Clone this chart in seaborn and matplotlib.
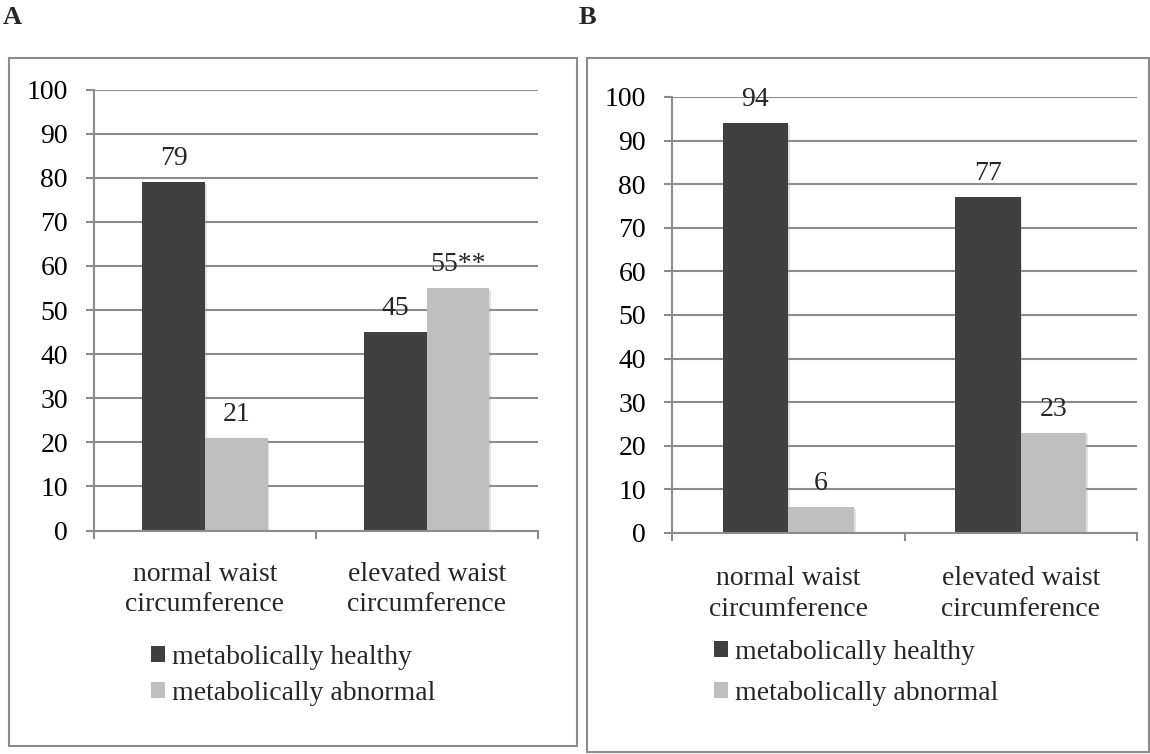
import matplotlib
matplotlib.use("Agg")
import matplotlib.pyplot as plt
import matplotlib.patheffects as pe
from matplotlib.patches import Rectangle
from matplotlib.ticker import FixedLocator
import pandas as pd
import seaborn as sns

# ---- data -------------------------------------------------------------
categories = ["normal waist\ncircumference", "elevated waist\ncircumference"]
groups = ["metabolically healthy", "metabolically abnormal"]

panel_a_healthy = [79, 45]
panel_a_abnormal = [21, 55]
panel_a_marks = [["", ""], ["", "**"]]     # significance markers per group

panel_b_healthy = [94, 77]
panel_b_abnormal = [6, 23]
panel_b_marks = [["", ""], ["", ""]]

y_ticks = [0, 10, 20, 30, 40, 50, 60, 70, 80, 90, 100]
panel_letters = ["A", "B"]

# ---- style ------------------------------------------------------------
DARK = "#404040"
LIGHT = "#bfbfbf"
GRID = "#8c8c8c"
FS = 20

sns.set_style("white")
plt.rcParams["font.family"] = ["Liberation Serif", "DejaVu Serif"]
plt.rcParams["font.size"] = FS

W, H = 1150, 754
fig = plt.figure(figsize=(W / 100, H / 100), dpi=100)


def fx(px):
    return px / W


def fy(py):
    return 1 - py / H


def draw_panel(ax, healthy, abnormal, marks, legend_xy, legend_spacing, xpad):
    df = pd.DataFrame({
        "category": categories * 2,
        "group": [groups[0]] * len(categories) + [groups[1]] * len(categories),
        "value": healthy + abnormal,
    })
    sns.barplot(data=df, x="category", y="value", hue="group",
                order=categories, hue_order=groups,
                palette=[DARK, LIGHT], saturation=1, width=0.565, gap=0,
                errorbar=None, linewidth=0, ax=ax)

    shadow = [pe.SimplePatchShadow(offset=(1.2, -1.2), shadow_rgbFace="#a0a0a0", alpha=0.3),
              pe.Normal()]
    for container, mk in zip(ax.containers, marks):
        for bar in container:
            bar.set_path_effects(shadow)
            bar.set_zorder(3)
        labels = [f"{bar.get_height():.0f}{m}" for bar, m in zip(container, mk)]
        ax.bar_label(container, labels=labels, padding=8, fontsize=FS, zorder=5)

    ax.set_xlim(-0.5, len(categories) - 0.5)
    ax.set_ylim(0, 100)
    ax.set_xlabel("")
    ax.set_ylabel("")
    ax.yaxis.set_major_locator(FixedLocator(y_ticks))
    ax.xaxis.set_minor_locator(FixedLocator([i - 0.5 for i in range(len(categories) + 1)]))
    ax.grid(axis="y", color=GRID, linewidth=1.5, zorder=0)
    ax.set_axisbelow(True)
    for s in ("top", "right"):
        ax.spines[s].set_visible(False)
    for s in ("left", "bottom"):
        ax.spines[s].set_color(GRID)
        ax.spines[s].set_linewidth(1.5)
        ax.spines[s].set_zorder(4)
    ax.tick_params(axis="y", length=5.8, width=1.5, color=GRID, pad=13,
                   labelsize=FS, labelcolor="black", left=True)
    ax.tick_params(axis="x", which="major", length=0, pad=xpad, labelsize=FS)
    ax.tick_params(axis="x", which="minor", length=5.8, width=1.5, color=GRID,
                   bottom=True)
    for t in ax.get_xticklabels():
        t.set_linespacing(1.28)

    handles, labels = ax.get_legend_handles_labels()
    ax.legend(handles, labels, loc="upper left",
              bbox_to_anchor=(fx(legend_xy[0]), fy(legend_xy[1])),
              bbox_transform=fig.transFigure, frameon=False, fontsize=FS,
              handlelength=0.52, handleheight=0.52, handletextpad=0.25,
              labelspacing=legend_spacing, borderpad=0, borderaxespad=0)


ax_a = fig.add_axes([fx(94), fy(530.5), fx(443.7), 441 / H])
ax_b = fig.add_axes([fx(672), fy(533), fx(465), 436 / H])

draw_panel(ax_a, panel_a_healthy, panel_a_abnormal, panel_a_marks,
           (151, 645), 0.38, 22.5)
draw_panel(ax_b, panel_b_healthy, panel_b_abnormal, panel_b_marks,
           (714, 640), 0.56, 24)

# panel frames
for (x0, y0, x1, y1) in [(9, 58, 577, 746), (587, 58, 1149, 752)]:
    fig.add_artist(Rectangle((fx(x0), fy(y1)), fx(x1 - x0), (y1 - y0) / H,
                             transform=fig.transFigure, fill=False,
                             edgecolor=GRID, linewidth=1.5))

# panel letters
fig.text(fx(3), fy(6), panel_letters[0], fontsize=19, fontweight="bold", va="top", ha="left")
fig.text(fx(579), fy(6), panel_letters[1], fontsize=19, fontweight="bold", va="top", ha="left")

fig.savefig("out.png", dpi=100, facecolor="white")
